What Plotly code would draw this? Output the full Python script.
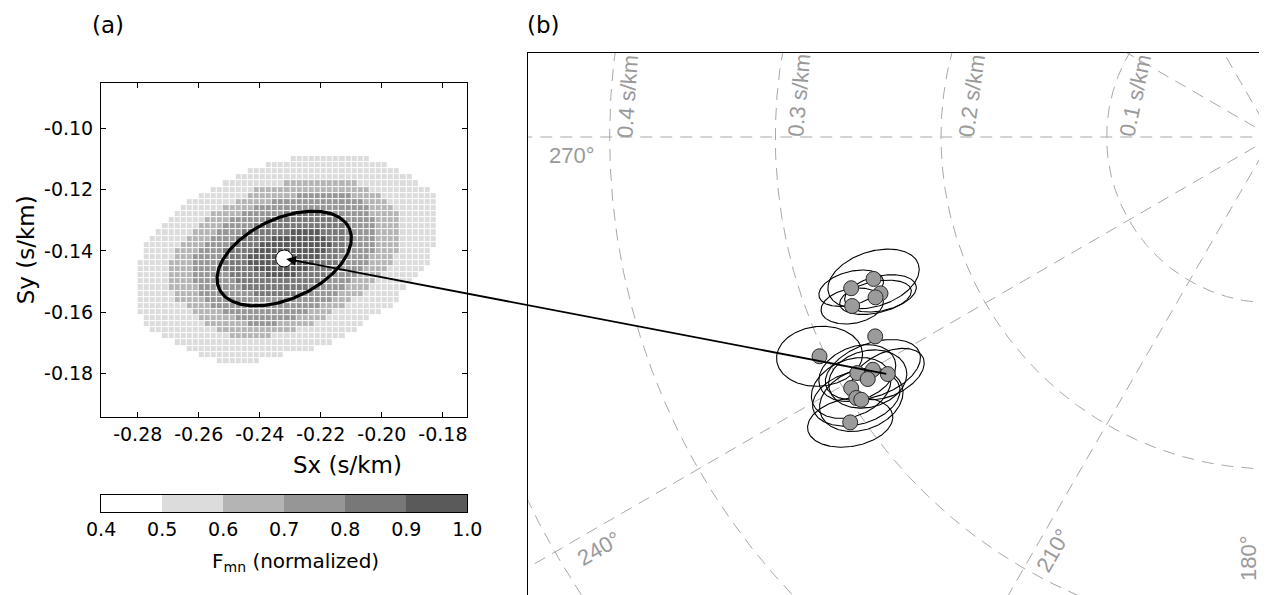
import numpy as np
import plotly.graph_objects as go

W, H = 1274, 595
FONT = "Liberation Sans, Arial, Helvetica, sans-serif"
FONT_A = "DejaVu Sans, Liberation Sans, sans-serif"
GREY_TXT = "#9a9a9a"

# ---------------------------------------------------------------------------
# Panel (a): normalised F statistic on a 0.002 s/km slowness grid.
# Each band lists (Sy row, first Sx cell, last Sx cell) of the cells at or
# above that contour level.
# ---------------------------------------------------------------------------
BAND_050 = [
    (-0.110, -0.229, -0.205), (-0.112, -0.237, -0.199), (-0.114, -0.243, -0.195),
    (-0.116, -0.247, -0.191), (-0.118, -0.251, -0.189), (-0.120, -0.255, -0.185),
    (-0.122, -0.259, -0.183), (-0.124, -0.263, -0.183), (-0.126, -0.265, -0.183),
    (-0.128, -0.267, -0.183), (-0.130, -0.269, -0.183), (-0.132, -0.271, -0.183),
    (-0.134, -0.273, -0.183), (-0.136, -0.275, -0.183), (-0.138, -0.277, -0.183),
    (-0.140, -0.277, -0.185), (-0.142, -0.277, -0.185), (-0.144, -0.279, -0.185),
    (-0.146, -0.279, -0.187), (-0.148, -0.279, -0.189), (-0.150, -0.279, -0.191),
    (-0.152, -0.279, -0.193), (-0.154, -0.279, -0.195), (-0.156, -0.279, -0.195),
    (-0.158, -0.279, -0.197), (-0.160, -0.279, -0.201), (-0.162, -0.277, -0.205),
    (-0.164, -0.277, -0.207), (-0.166, -0.275, -0.209), (-0.168, -0.271, -0.213),
    (-0.170, -0.267, -0.217), (-0.172, -0.263, -0.223), (-0.174, -0.259, -0.233),
    (-0.176, -0.253, -0.241),
]
BAND_060 = [
    (-0.118, -0.231, -0.209), (-0.120, -0.241, -0.205), (-0.122, -0.243, -0.201),
    (-0.124, -0.247, -0.199), (-0.126, -0.251, -0.197), (-0.128, -0.255, -0.195),
    (-0.130, -0.257, -0.195), (-0.132, -0.259, -0.195), (-0.134, -0.261, -0.195),
    (-0.136, -0.263, -0.195), (-0.138, -0.265, -0.195), (-0.140, -0.267, -0.195),
    (-0.142, -0.267, -0.197), (-0.144, -0.269, -0.197), (-0.146, -0.269, -0.199),
    (-0.148, -0.269, -0.201), (-0.150, -0.269, -0.203), (-0.152, -0.269, -0.205),
    (-0.154, -0.267, -0.207), (-0.156, -0.267, -0.211), (-0.158, -0.263, -0.213),
    (-0.160, -0.261, -0.217), (-0.162, -0.259, -0.219), (-0.164, -0.257, -0.223),
    (-0.166, -0.253, -0.229), (-0.168, -0.249, -0.237),
]
BAND_070 = [
    (-0.122, -0.227, -0.211), (-0.124, -0.235, -0.207), (-0.126, -0.241, -0.205),
    (-0.128, -0.245, -0.205), (-0.130, -0.249, -0.203), (-0.132, -0.251, -0.203),
    (-0.134, -0.253, -0.203), (-0.136, -0.255, -0.203), (-0.138, -0.257, -0.203),
    (-0.140, -0.259, -0.203), (-0.142, -0.261, -0.205), (-0.144, -0.261, -0.205),
    (-0.146, -0.261, -0.207), (-0.148, -0.261, -0.209), (-0.150, -0.261, -0.211),
    (-0.152, -0.259, -0.213), (-0.154, -0.259, -0.215), (-0.156, -0.257, -0.217),
    (-0.158, -0.255, -0.221), (-0.160, -0.251, -0.225), (-0.162, -0.247, -0.229),
    (-0.164, -0.243, -0.235),
]
BAND_080 = [
    (-0.128, -0.231, -0.219), (-0.130, -0.237, -0.215), (-0.132, -0.241, -0.213),
    (-0.134, -0.245, -0.213), (-0.136, -0.247, -0.213), (-0.138, -0.249, -0.213),
    (-0.140, -0.251, -0.213), (-0.142, -0.251, -0.215), (-0.144, -0.251, -0.215),
    (-0.146, -0.251, -0.217), (-0.148, -0.249, -0.219), (-0.150, -0.247, -0.221),
    (-0.152, -0.245, -0.225), (-0.154, -0.241, -0.229),
]
BAND_090 = [
    (-0.134, -0.229, -0.221), (-0.136, -0.235, -0.219), (-0.138, -0.239, -0.217),
    (-0.140, -0.241, -0.219), (-0.142, -0.243, -0.221), (-0.144, -0.243, -0.223),
    (-0.146, -0.241, -0.225), (-0.148, -0.237, -0.229),
]
BANDS = [BAND_050, BAND_060, BAND_070, BAND_080, BAND_090]
BAND_LEVELS = [0.5, 0.6, 0.7, 0.8, 0.9]

# colour classes 0.4-0.5, 0.5-0.6, ... 0.9-1.0
CLASS_EDGES = [0.4, 0.5, 0.6, 0.7, 0.8, 0.9, 1.0]
CLASS_COLORS = ["#ffffff", "#dcdcdc", "#b4b4b4", "#969696", "#787878", "#5a5a5a"]
CBAR_TICKTEXT = ["0.4", "0.5", "0.6", "0.7", "0.8", "0.9", "1.0"]

SX_TICKS = [-0.28, -0.26, -0.24, -0.22, -0.20, -0.18]
SX_TICKTEXT = ["-0.28", "-0.26", "-0.24", "-0.22", "-0.20", "-0.18"]
SY_TICKS = [-0.18, -0.16, -0.14, -0.12, -0.10]
SY_TICKTEXT = ["-0.18", "-0.16", "-0.14", "-0.12", "-0.10"]

# best slowness of the highlighted event and its confidence ellipse
BEST_SX, BEST_SY = -0.232, -0.1425
BEST_A, BEST_B, BEST_ANG = 0.0235, 0.0131, 25.0

# ---------------------------------------------------------------------------
# Panel (b): slowness estimates of all events with their ellipses
# ---------------------------------------------------------------------------
EV_SX = [-0.2407, -0.2542, -0.2365, -0.2395, -0.2536,
         -0.2397, -0.2733, -0.2505, -0.2411, -0.2442,
         -0.2321, -0.2542, -0.2511, -0.2481, -0.2548]
EV_SY = [-0.0855, -0.0911, -0.0942, -0.0966, -0.1018,
         -0.1201, -0.1321, -0.1422, -0.1402, -0.1458,
         -0.1428, -0.1512, -0.1572, -0.1583, -0.1719]
EV_A = [0.0285, 0.0200, 0.0220, 0.0220, 0.0190,
        None, 0.0260, 0.0240, 0.0300, 0.0240,
        0.0235, 0.0250, 0.0270, 0.0260, 0.0260]
EV_B = [0.0165, 0.0100, 0.0105, 0.0095, 0.0105,
        None, 0.0180, 0.0160, 0.0160, 0.0170,
        0.0131, 0.0170, 0.0160, 0.0180, 0.0145]
EV_ANG = [18, 15, 12, 12, 10,
          None, 5, 20, 20, 15,
          25, 22, 15, 20, 10]
HIGHLIGHT = 10  # index of the event shown in panel (a)

RING_RADII = [0.1, 0.2, 0.3, 0.4, 0.5]
RING_LABELS = ["0.1 s/km", "0.2 s/km", "0.3 s/km", "0.4 s/km"]
RING_LABEL_POS = [(-0.0829, 0.0253), (-0.1817, 0.0247), (-0.2859, 0.0253), (-0.3889, 0.0241)]
RING_LABEL_ANG = [-78, -82, -85, -86]
BAZ_LINES = [0, 30, 60, 90, 120, 150, 180, 210, 240, 270, 300, 330]
BAZ_LABELS = ["270°", "240°", "210°", "180°"]
BAZ_LABEL_POS = [(-0.4226, -0.0114), (-0.4064, -0.2476), (-0.1323, -0.2488), (-0.0140, -0.2536)]
BAZ_LABEL_ANG = [0, -30, -60, -90]

# ---------------------------------------------------------------------------
# Layout geometry, in page pixels.  The page shows the figure 0.9785x as wide
# as laid out, starting 13.7 px in; vertical positions are unchanged.
# ---------------------------------------------------------------------------
PAGE_X0, PAGE_XS = 13.7, 0.9785
PAGE_RIGHT = PAGE_X0 + PAGE_XS * W


def fx(px):
    """paper fraction for a page column"""
    return (px - PAGE_X0) / PAGE_XS / W


def fy(py):
    """paper fraction for a page row"""
    return 1 - py / H


A_LEFT, A_TOP, A_SCALE = 100.0, 83.3, 3058.0
A_XR = [-0.2920, -0.1720]
A_YR = [-0.1942, -0.0852]
A_RIGHT = A_LEFT + (A_XR[1] - A_XR[0]) * A_SCALE
A_BOTTOM = A_TOP + (A_YR[1] - A_YR[0]) * A_SCALE

B_LEFT, B_TOP, B_SCALE = 528.0, 53.0, 1660.0
B_OX, B_OY = 1273.6, 137.0
B_XR = [(B_LEFT - B_OX) / B_SCALE, (PAGE_RIGHT - B_OX) / B_SCALE]
B_YR = [(B_OY - H) / B_SCALE, (B_OY - B_TOP) / B_SCALE]

CB_TOP, CB_BOTTOM = 494.7, 512.1


def ellipse(cx, cy, a, b, ang, n=241):
    t = np.linspace(0, 2 * np.pi, n)
    p = np.deg2rad(ang)
    ex = cx + a * np.cos(t) * np.cos(p) - b * np.sin(t) * np.sin(p)
    ey = cy + a * np.cos(t) * np.sin(p) + b * np.sin(t) * np.cos(p)
    return ex, ey


# ---- grid of F values ----
grid_sx = np.round(-0.279 + 0.002 * np.arange(49), 3)
grid_sy = np.round(-0.110 - 0.002 * np.arange(34), 3)
fgrid = np.full((grid_sy.size, grid_sx.size), np.nan)
for level, band in zip(BAND_LEVELS, BANDS):
    for sy, lo, hi in band:
        r = int(np.argmin(np.abs(grid_sy - sy)))
        cols = (grid_sx >= lo - 1e-6) & (grid_sx <= hi + 1e-6)
        fgrid[r, cols] = level + 0.05

colorscale = []
for i, c in enumerate(CLASS_COLORS):
    colorscale.append([i / 6, c])
    colorscale.append([(i + 1) / 6, c])

fig = go.Figure()

fig.add_trace(go.Heatmap(
    x=grid_sx, y=grid_sy, z=fgrid, zmin=0.4, zmax=1.0,
    colorscale=colorscale, showscale=False, xgap=1, ygap=1,
    hoverinfo="skip", xaxis="x", yaxis="y"))

ex, ey = ellipse(BEST_SX, BEST_SY, BEST_A, BEST_B, BEST_ANG)
fig.add_trace(go.Scatter(x=ex, y=ey, mode="lines", line=dict(color="black", width=3.2),
                         hoverinfo="skip", xaxis="x", yaxis="y"))
fig.add_trace(go.Scatter(x=[BEST_SX], y=[BEST_SY], mode="markers",
                         marker=dict(size=17, color="white", line=dict(color="black", width=1)),
                         hoverinfo="skip", xaxis="x", yaxis="y"))

# ---- colour scale bar on its own axis ----
fig.add_trace(go.Bar(
    x=[(CLASS_EDGES[i] + CLASS_EDGES[i + 1]) / 2 for i in range(6)],
    y=[1] * 6, width=[CLASS_EDGES[i + 1] - CLASS_EDGES[i] for i in range(6)],
    marker=dict(color=CLASS_COLORS, line=dict(width=0)),
    hoverinfo="skip", xaxis="x3", yaxis="y3"))

# ---- panel (b) polar grid ----
dash = "12px,8px"
for r in RING_RADII:
    t = np.linspace(0, 2 * np.pi, 1441)
    fig.add_trace(go.Scatter(x=r * np.sin(t), y=r * np.cos(t), mode="lines",
                             line=dict(color="#a8a8a8", width=1, dash=dash),
                             hoverinfo="skip", xaxis="x2", yaxis="y2"))
for baz in BAZ_LINES:
    th = np.deg2rad(baz)
    fig.add_trace(go.Scatter(x=[0, 0.7 * np.sin(th)], y=[0, 0.7 * np.cos(th)], mode="lines",
                             line=dict(color="#a8a8a8", width=1, dash=dash),
                             hoverinfo="skip", xaxis="x2", yaxis="y2"))

ell_x, ell_y = [], []
for sx, sy, a, b, ang in zip(EV_SX, EV_SY, EV_A, EV_B, EV_ANG):
    if a is None:
        continue
    px, py = ellipse(sx, sy, a, b, ang)
    ell_x += list(px) + [None]
    ell_y += list(py) + [None]
fig.add_trace(go.Scatter(x=ell_x, y=ell_y, mode="lines", line=dict(color="black", width=1.1),
                         hoverinfo="skip", xaxis="x2", yaxis="y2"))
fig.add_trace(go.Scatter(x=EV_SX, y=EV_SY, mode="markers",
                         marker=dict(size=15, color="#9b9b9b", line=dict(color="#2a2a2a", width=1)),
                         hoverinfo="skip", xaxis="x2", yaxis="y2"))

annotations = []
for txt, (x, y), ang in zip(RING_LABELS, RING_LABEL_POS, RING_LABEL_ANG):
    annotations.append(dict(text=txt, x=x, y=y, xref="x2", yref="y2", showarrow=False,
                            xanchor="center", yanchor="middle",
                            textangle=ang, font=dict(size=22, color=GREY_TXT, family=FONT)))
for txt, (x, y), ang in zip(BAZ_LABELS, BAZ_LABEL_POS, BAZ_LABEL_ANG):
    annotations.append(dict(text=txt, x=x, y=y, xref="x2", yref="y2", showarrow=False,
                            xanchor="center", yanchor="middle",
                            textangle=ang, font=dict(size=22, color=GREY_TXT, family=FONT)))

# arrow from the highlighted event in (b) back to its grid search in (a):
# the tail is the event's page position expressed in panel (a) units
tail_px = B_OX + EV_SX[HIGHLIGHT] * B_SCALE
tail_py = B_OY - EV_SY[HIGHLIGHT] * B_SCALE
tail_sx = A_XR[0] + (tail_px - A_LEFT) / A_SCALE
tail_sy = A_YR[1] - (tail_py - A_TOP) / A_SCALE
annotations.append(dict(x=BEST_SX, y=BEST_SY, xref="x", yref="y", axref="x", ayref="y",
                        ax=tail_sx, ay=tail_sy, text="", showarrow=True, arrowhead=2,
                        arrowsize=1.1, arrowwidth=1.8, arrowcolor="black", standoff=2))


def page_text(txt, px, py, size, angle=0, family=FONT_A):
    return dict(text=txt, x=fx(px), y=fy(py), xref="paper", yref="paper",
                xanchor="center", yanchor="middle", showarrow=False, textangle=angle,
                font=dict(size=size, color="black", family=family))


annotations += [
    page_text("(a)", 107, 25, 23),
    page_text("(b)", 543, 25, 23),
    page_text("Sx (s/km)", 347, 465, 23),
    page_text("Sy (s/km)", 25, (A_TOP + A_BOTTOM) / 2, 23, -90),
    page_text("F<sub>mn</sub> (normalized)", 295, 562, 20),
]

tickfont = dict(size=19, color="black", family=FONT_A)
fig.update_layout(
    width=W, height=H, margin=dict(l=0, r=0, t=0, b=0),
    paper_bgcolor="white", plot_bgcolor="white", showlegend=False,
    font=dict(family=FONT),
    xaxis=dict(domain=[fx(A_LEFT), fx(A_RIGHT)], range=A_XR, anchor="y",
               tickvals=SX_TICKS, ticktext=SX_TICKTEXT, ticks="inside", ticklen=5,
               tickcolor="black", showline=True, linecolor="black", linewidth=1.2,
               mirror="ticks", showgrid=False, zeroline=False, tickfont=tickfont),
    yaxis=dict(domain=[fy(A_BOTTOM), fy(A_TOP)], range=A_YR, anchor="x",
               tickvals=SY_TICKS, ticktext=SY_TICKTEXT, ticks="inside", ticklen=5,
               tickcolor="black", showline=True, linecolor="black", linewidth=1.2,
               mirror="ticks", showgrid=False, zeroline=False, tickfont=tickfont,
               ticklabelstandoff=3),
    xaxis2=dict(domain=[fx(B_LEFT), 1.0], range=B_XR, anchor="y2", side="top",
                showline=True, linecolor="black", linewidth=1.3, showticklabels=False,
                ticks="", showgrid=False, zeroline=False),
    yaxis2=dict(domain=[0.0, fy(B_TOP)], range=B_YR, anchor="x2",
                showline=True, linecolor="black", linewidth=1.3, showticklabels=False,
                ticks="", showgrid=False, zeroline=False),
    xaxis3=dict(domain=[fx(A_LEFT), fx(A_RIGHT)], range=[0.4, 1.0], anchor="y3",
                tickvals=CLASS_EDGES, ticktext=CBAR_TICKTEXT, ticks="",
                showline=True, linecolor="black", linewidth=1.2,
                mirror=True, showgrid=False, zeroline=False, tickfont=tickfont),
    yaxis3=dict(domain=[fy(CB_BOTTOM), fy(CB_TOP)], range=[0, 1], anchor="x3",
                showline=True, linecolor="black", linewidth=1.2, mirror=True,
                showticklabels=False, ticks="", showgrid=False, zeroline=False),
    bargap=0,
    annotations=annotations,
)

fig.write_html("out.html")
